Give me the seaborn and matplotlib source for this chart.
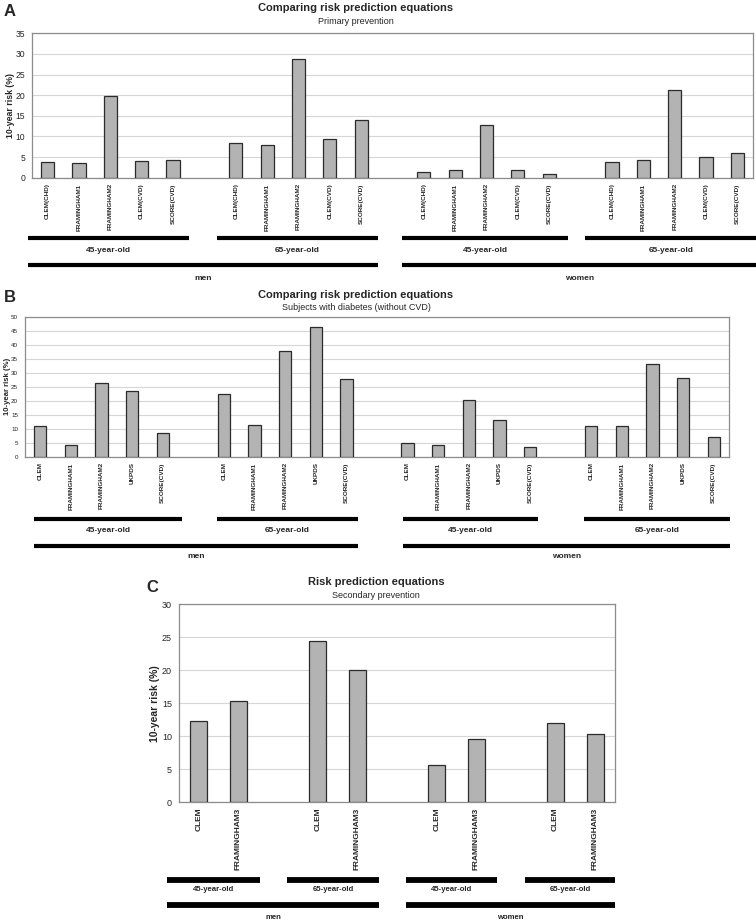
import pandas as pd
import seaborn as sns
import matplotlib.pyplot as plt
from matplotlib.transforms import blended_transform_factory

# ---- data ----
sexes = ["men", "women"]
ages = ["45-year-old", "65-year-old"]

# A: primary prevention
eq_a = ["CLEM(CHD)", "FRAMINGHAM1", "FRAMINGHAM2", "CLEM(CVD)", "SCORE(CVD)"]
men45_a = [3.7, 3.5, 19.8, 4.1, 4.2]
men65_a = [8.3, 7.9, 28.8, 9.5, 13.9]
women45_a = [1.5, 1.8, 12.7, 1.9, 0.9]
women65_a = [3.7, 4.2, 21.3, 4.9, 6.1]

# B: subjects with diabetes (without CVD)
eq_b = ["CLEM", "FRAMINGHAM1", "FRAMINGHAM2", "UKPDS", "SCORE(CVD)"]
men45_b = [11.0, 4.3, 26.2, 23.5, 8.3]
men65_b = [22.4, 11.2, 37.7, 46.4, 27.6]
women45_b = [4.9, 4.0, 20.4, 13.1, 3.3]
women65_b = [10.8, 10.8, 33.0, 28.0, 6.9]

# C: secondary prevention
eq_c = ["CLEM", "FRAMINGHAM3"]
men45_c = [12.3, 15.4]
men65_c = [24.5, 20.0]
women45_c = [5.6, 9.6]
women65_c = [12.0, 10.4]

W, H = 756, 921
sns.set_style("white")
plt.rcParams["font.family"] = ["Liberation Sans", "DejaVu Sans"]

fig = plt.figure(figsize=(W / 100, H / 100), dpi=100)


def build(eqs, groups):
    rows = []
    for g, vals in enumerate(groups):
        for i, v in enumerate(vals):
            rows.append({"slot": g * (len(eqs) + 1) + i, "eq": eqs[i], "risk": v})
    return pd.DataFrame(rows)


def fy(y):
    return 1 - y / H


def panel(box, eqs, groups, ymax, ystep, bw, fs_y, fs_x, fs_lab, lab_x,
          age_spans, sex_spans, ys, fs_grp, lw_br):
    l, r, top, bot = box
    df = build(eqs, groups)
    ax = fig.add_axes([l / W, 1 - bot / H, (r - l) / W, (bot - top) / H])
    sns.barplot(data=df, x="slot", y="risk", native_scale=True, width=bw,
                color="#b3b3b3", saturation=1, edgecolor="#2b2b2b",
                linewidth=0.9, errorbar=None, ax=ax, zorder=3)
    n = len(groups) * (len(eqs) + 1) - 1
    ax.set_xlim(-0.5, n - 0.5)
    ax.set_ylim(0, ymax)
    ax.set_yticks(range(0, ymax + 1, ystep))
    ax.yaxis.grid(True, color="#d6d6d6", lw=0.8, zorder=0)
    ax.set_xticks(df["slot"])
    ax.set_xticklabels(df["eq"], rotation=90, fontsize=fs_x, fontweight="bold")
    ax.set_xticks([k - 0.5 for k in range(n + 1)], minor=True)
    ax.tick_params(axis="x", which="major", length=0, pad=4)
    ax.tick_params(axis="x", which="minor", length=3, color="#808080", direction="out")
    ax.tick_params(axis="y", length=3, color="#808080", direction="out",
                   labelsize=fs_y, pad=2)
    ax.set_xlabel("")
    ax.set_ylabel("10-year risk (%)", fontsize=fs_lab, fontweight="bold")
    # lab_x = right edge of the rotated label, in pixels
    ax.yaxis.set_label_coords((lab_x - l) / (r - l), 0.5)
    for s in ax.spines.values():
        s.set_visible(True)
        s.set_color("#8c8c8c")
        s.set_linewidth(0.9)

    tr = blended_transform_factory(ax.transData, fig.transFigure)
    age_y, age_ty, sex_y, sex_ty = ys
    for k, (x0, x1) in enumerate(age_spans):
        ax.plot([x0, x1], [fy(age_y)] * 2, color="black", lw=lw_br,
                solid_capstyle="butt", transform=tr, clip_on=False)
        ax.text((x0 + x1) / 2, fy(age_ty), ages[k % 2], transform=tr,
                ha="center", va="center", fontsize=fs_grp, fontweight="bold")
    for k, (x0, x1) in enumerate(sex_spans):
        ax.plot([x0, x1], [fy(sex_y)] * 2, color="black", lw=lw_br,
                solid_capstyle="butt", transform=tr, clip_on=False)
        ax.text((x0 + x1) / 2, fy(sex_ty), sexes[k], transform=tr,
                ha="center", va="center", fontsize=fs_grp, fontweight="bold")
    return ax


# ---- panel A ----
panel((32, 753, 33.3, 177.7), eq_a, [men45_a, men65_a, women45_a, women65_a],
      35, 5, 0.42, 6.2, 4.6, 6.3, 15,
      [(-0.63, 4.51), (5.40, 10.54), (11.31, 16.61), (17.15, 22.6)],
      [(-0.63, 10.54), (11.31, 22.6)], (238, 250, 265, 278), 6.0, 3.0)
fig.text(356 / W, fy(8), "Comparing risk prediction equations", ha="center",
         va="center", fontsize=8, fontweight="bold")
fig.text(356 / W, fy(21), "Primary prevention", ha="center", va="center", fontsize=6.5)
fig.text(4 / W, fy(11), "A", ha="left", va="center", fontsize=12, fontweight="bold")

# ---- panel B ----
panel((25, 729, 316.7, 456.7), eq_b, [men45_b, men65_b, women45_b, women65_b],
      50, 5, 0.40, 4.5, 4.6, 5.6, 10.5,
      [(-0.21, 4.63), (5.77, 10.38), (11.85, 16.26), (17.76, 22.53)],
      [(-0.21, 10.38), (11.85, 22.53)], (519, 530, 546, 556), 6.0, 3.0)
fig.text(356 / W, fy(295), "Comparing risk prediction equations", ha="center",
         va="center", fontsize=8, fontweight="bold")
fig.text(356 / W, fy(307), "Subjects with diabetes (without CVD)", ha="center",
         va="center", fontsize=6.5)
fig.text(4 / W, fy(297), "B", ha="left", va="center", fontsize=12, fontweight="bold")

# ---- panel C ----
panel((179, 615, 604.3, 802.3), eq_c, [men45_c, men65_c, women45_c, women65_c],
      30, 5, 0.42, 6.5, 6.0, 7.5, 160,
      [(-0.80, 1.54), (2.22, 4.55), (5.23, 7.52), (8.23, 10.5)],
      [(-0.80, 4.55), (5.23, 10.5)], (880, 889, 905, 917), 5.6, 4.2)
fig.text(376 / W, fy(582), "Risk prediction equations", ha="center",
         va="center", fontsize=8, fontweight="bold")
fig.text(376 / W, fy(595), "Secondary prevention", ha="center", va="center", fontsize=6.5)
fig.text(146 / W, fy(587), "C", ha="left", va="center", fontsize=12, fontweight="bold")

fig.savefig("out.png", dpi=100)
